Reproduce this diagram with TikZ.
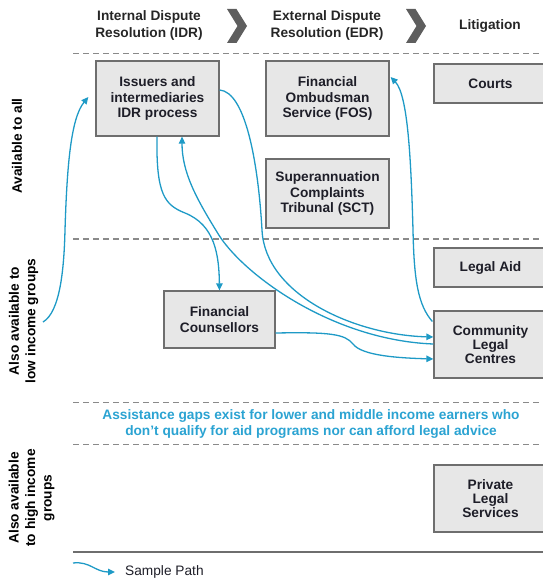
\documentclass[tikz,border=0pt]{standalone}
\usepackage{fontspec}
\setmainfont{Liberation Sans}
\usetikzlibrary{arrows.meta}
\definecolor{boxfill}{HTML}{E7E7E7}
\definecolor{boxline}{HTML}{6E6E6E}
\definecolor{pathblue}{HTML}{1E9AC6}
\definecolor{gaptext}{HTML}{2BA3D2}
\definecolor{dashgray}{HTML}{8A8A8A}
\definecolor{chevgray}{HTML}{5E5E5E}
\definecolor{txt}{HTML}{1E1E28}
\begin{document}
\begin{tikzpicture}[x=1pt,y=-1pt,
  every node/.style={font=\fontsize{13.7pt}{15.5pt}\selectfont\bfseries, text=txt, inner sep=0pt},
  orgbox/.style={draw=boxline, line width=1.3pt, fill=boxfill, align=center},
  sep/.style={draw=dashgray, line width=1.3pt, dash pattern=on 6pt off 4pt},
  flow/.style={draw=pathblue, line width=1.3pt},
  flowarrow/.style={flow, -{Triangle[length=7pt,width=6.5pt]}},
  chevron/.style={fill=chevgray, draw=none},
  header/.style={align=center, font=\fontsize{13.7pt}{17pt}\selectfont\bfseries, text=black!85},
  sidelabel/.style={rotate=90, align=center, font=\fontsize{13.7pt}{16.5pt}\selectfont\bfseries, text=black}
]
\useasboundingbox (0,0) rectangle (543,578);

% headers
\node[header] (hidr) at (149,25.5) {Internal Dispute\\Resolution (IDR)};
\node[header] (hedr) at (327,25.5) {External Dispute\\Resolution (EDR)};
\node[header] (hlit) at (490,26) {Litigation};
\fill[chevron] (227,9) -- (236.5,9) -- (247,26) -- (236.5,43) -- (227,43) -- (237.5,26) -- cycle;
\fill[chevron] (406,9) -- (415.5,9) -- (426,26) -- (415.5,43) -- (406,43) -- (416.5,26) -- cycle;

% separators
\coordinate (s1a) at (73,53.5); \coordinate (s1b) at (547,53.5);
\coordinate (s2a) at (73,239);  \coordinate (s2b) at (547,239);
\coordinate (s3a) at (73,402.5);\coordinate (s3b) at (547,402.5);
\coordinate (s4a) at (73,444.5);\coordinate (s4b) at (547,444.5);
\coordinate (s5a) at (73,552);  \coordinate (s5b) at (547,552);
\draw[sep] (s1a) -- (s1b);
\draw[sep] (s2a) -- (s2b);
\draw[sep] (s3a) -- (s3b);
\draw[sep] (s4a) -- (s4b);
\draw[draw=boxline, line width=1.3pt] (s5a) -- (s5b);

% side labels
\node[sidelabel] (lall) at (17,146) {Available to all};
\node[sidelabel] (llow) at (23.5,321) {Also available to\\low income groups};
\node[sidelabel] (lhigh) at (31.5,498) {Also available\\to high income\\groups};

% boxes
\node[orgbox, minimum width=123pt, minimum height=75pt] (idr) at (157.5,98.5) {Issuers and\\intermediaries\\IDR process};
\node[orgbox, minimum width=123pt, minimum height=75pt] (fos) at (327.5,98.5) {Financial\\Ombudsman\\Service (FOS)};
\node[orgbox, minimum width=113pt, minimum height=39pt] (courts) at (490.5,83.5) {Courts};
\node[orgbox, minimum width=123pt, minimum height=69pt] (sct) at (327.5,193.5) {Superannuation\\Complaints\\Tribunal (SCT)};
\node[orgbox, minimum width=113pt, minimum height=39pt] (legalaid) at (490.5,267.5) {Legal Aid};
\node[orgbox, minimum width=111pt, minimum height=57pt] (fc) at (219.5,319.5) {Financial\\Counsellors};
\node[orgbox, minimum width=113pt, minimum height=67pt, font=\fontsize{13.7pt}{14pt}\selectfont\bfseries] (clc) at (490.5,344.5) {Community\\Legal\\Centres};
\node[orgbox, minimum width=113pt, minimum height=67pt, font=\fontsize{13.7pt}{14pt}\selectfont\bfseries] (pls) at (490.5,498.5) {Private\\Legal\\Services};

% gap text
\node[align=center, text=gaptext, font=\fontsize{13.7pt}{16pt}\selectfont\bfseries] (gap) at (311,424) {Assistance gaps exist for lower and middle income earners who\\don’t qualify for aid programs nor can afford legal advice};

% attachment points (shifts in picture coordinates, y downwards)
\coordinate (lowstart) at (43,322);
\coordinate (idrL) at ([shift={(-7,-1.5)}]idr.west);
\coordinate (idrR) at ([shift={(0,-8.5)}]idr.east);
\coordinate (idrB1) at ([shift={(-0.5,0)}]idr.south);
\coordinate (idrB2) at ([shift={(24.5,0)}]idr.south);
\coordinate (clcA) at ([shift={(0,-7.5)}]clc.west);
\coordinate (clcB) at ([shift={(0,-0.5)}]clc.west);
\coordinate (clcC) at ([shift={(0,14.5)}]clc.west);
\coordinate (clcT) at ([shift={(-1,-23)}]clc.west);
\coordinate (fcR) at ([shift={(0,13.5)}]fc.east);
\coordinate (fosR) at ([shift={(1,-21.5)}]fos.east);

% paths
\draw[flowarrow] (lowstart) .. controls (60,312) and (64,270) .. (65,230)
   .. controls (67,165) and (71,118) .. (idrL);
\draw[flowarrow] (idrR) .. controls (245,92) and (258,160) .. (262,230)
   .. controls (265,295) and (355,335) .. (clcA);
\draw[flowarrow] (clcB) .. controls (330,340) and (240,272) .. (217,232)
   .. controls (196,198) and (182,172) .. (idrB2);
\draw[flowarrow] (idrB1) .. controls (156,195) and (165,205) .. (185,213)
   .. controls (215,225) and (219,255) .. (fc.north);
\draw[flowarrow] (fcR) .. controls (330,332) and (345,334) .. (353,344)
   .. controls (362,356) and (400,358) .. (clcC);
\draw[flowarrow] (clcT) .. controls (418,305) and (414,280) .. (413,230)
   .. controls (411,160) and (408,95) .. (fosR);

% legend
\coordinate (lega) at (73,563);
\node[font=\fontsize{13.7pt}{15pt}\selectfont, text=txt, anchor=west] (legtext) at (125,572) {Sample Path};
\draw[flowarrow] (lega) .. controls (90,561) and (95,572) .. ([xshift=-10pt]legtext.west);
\end{tikzpicture}
\end{document}
